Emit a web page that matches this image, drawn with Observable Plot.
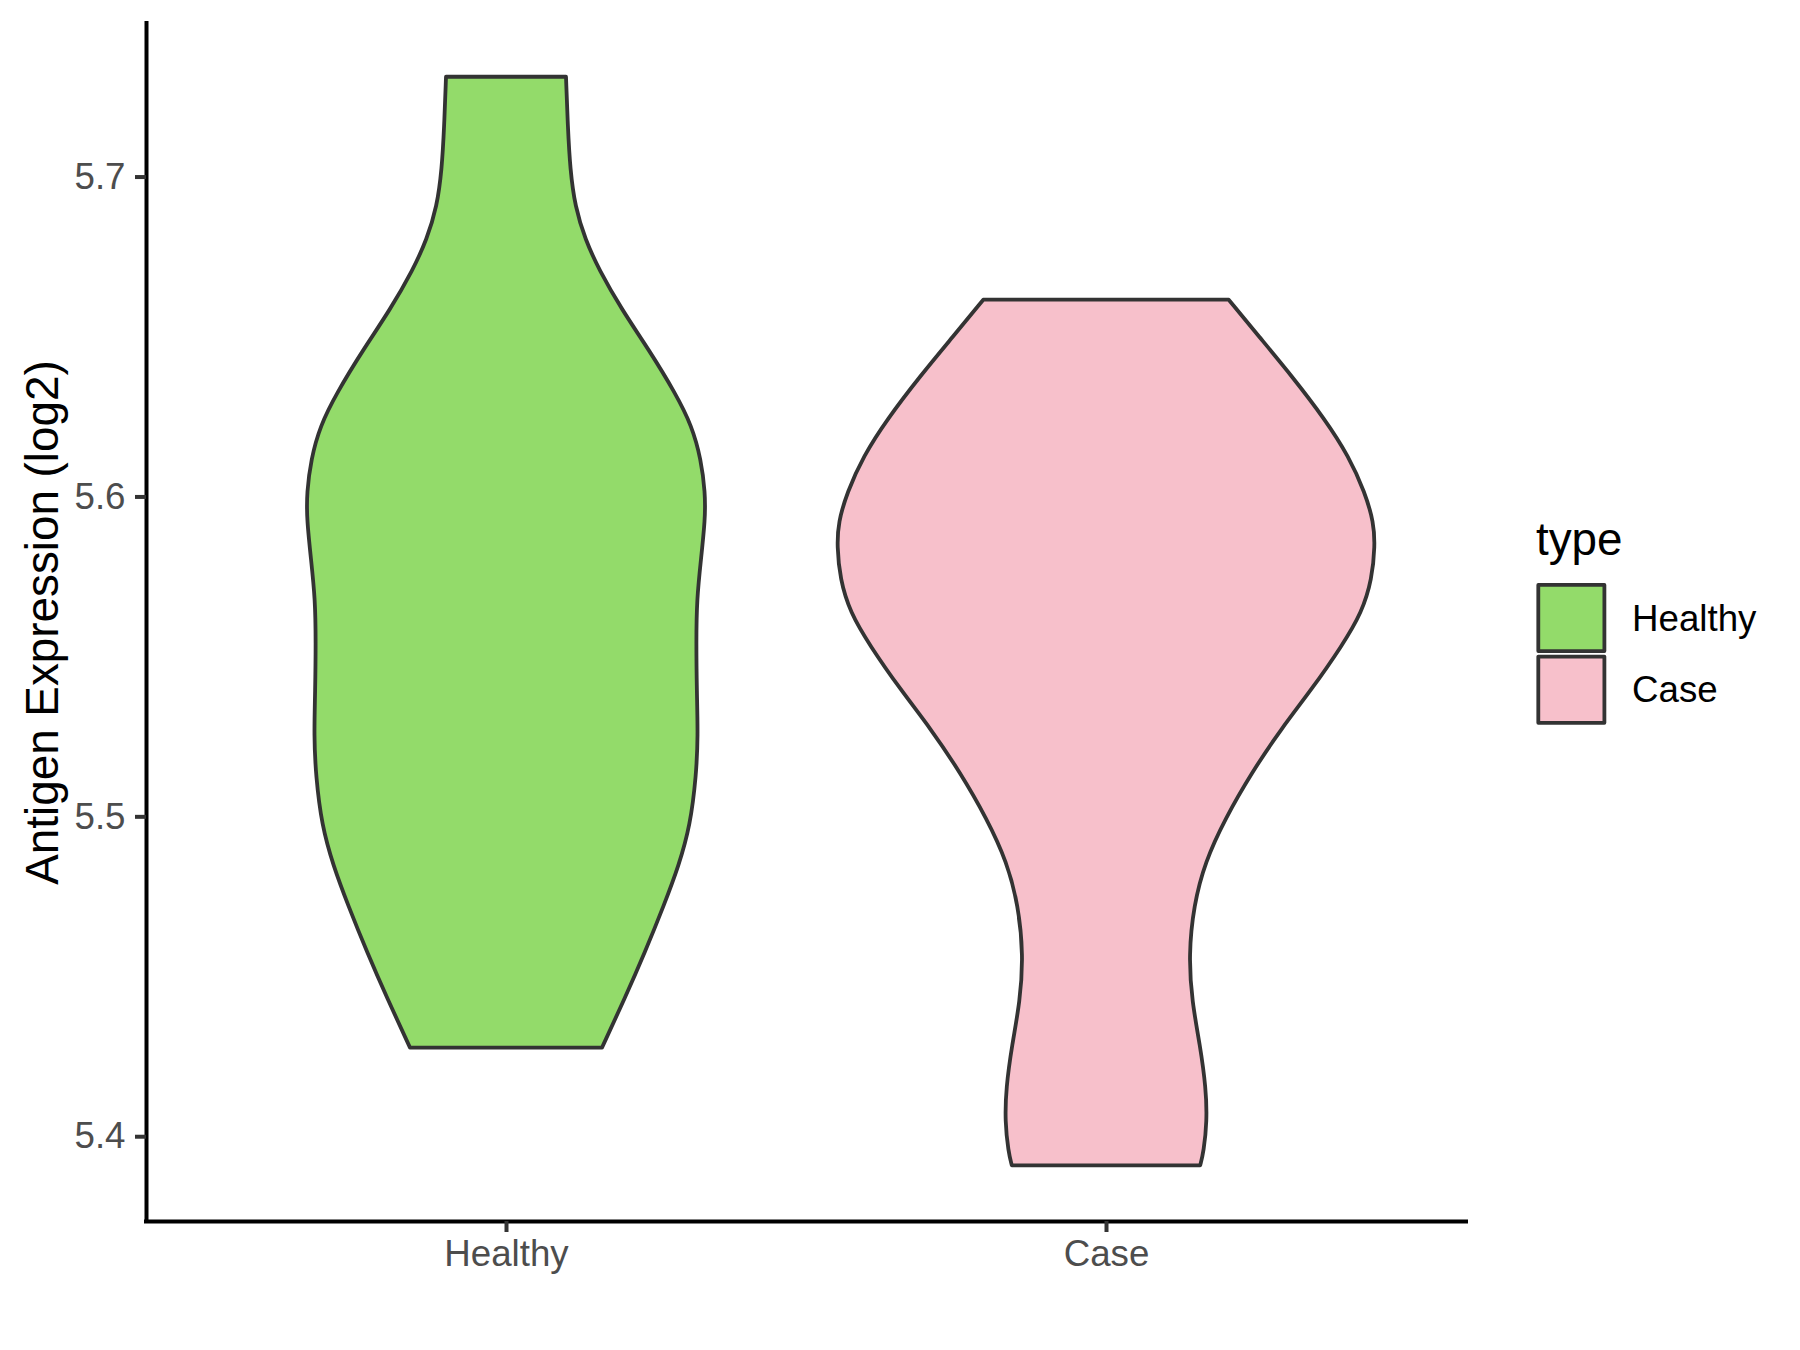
<!DOCTYPE html>
<html>
<head>
<meta charset="utf-8">
<script src="https://cdn.jsdelivr.net/npm/d3@7"></script>
<script src="https://cdn.jsdelivr.net/npm/@observablehq/plot@0.6"></script>
<style>
  body { margin: 0; background: #fff; }
  #chart { width: 1800px; height: 1350px; }
</style>
</head>
<body>
<div id="chart"></div>
<script>
// ---- data ----
const categories = ["Healthy", "Case"];
const fillColors = ["#93DB6A", "#F7C0CB"];
const yTicks = [5.4, 5.5, 5.6, 5.7];
const yDomain = [5.3735, 5.748];
const xDomain = [0.4, 2.6];
const yTitle = "Antigen Expression (log2)";
const legendTitle = "type";

// violin outlines: expression value and half-width (in category units)
const healthyValue = [5.7312, 5.7156, 5.7021, 5.6907, 5.6803, 5.6709, 5.6584, 5.6459, 5.6324, 5.6220, 5.6116, 5.6012, 5.5929, 5.5804, 5.5679, 5.5545, 5.5389, 5.5252, 5.5127, 5.4971, 5.4846, 5.4721, 5.4577, 5.4431, 5.4277];
const healthyHalfWidth = [0.100, 0.103, 0.107, 0.115, 0.132, 0.155, 0.193, 0.238, 0.282, 0.310, 0.325, 0.332, 0.332, 0.325, 0.318, 0.317, 0.318, 0.320, 0.317, 0.307, 0.288, 0.263, 0.232, 0.198, 0.160];
const caseValue = [5.6615, 5.6501, 5.6376, 5.6241, 5.6126, 5.6012, 5.5919, 5.5846, 5.5742, 5.5638, 5.5533, 5.5398, 5.5273, 5.5138, 5.4992, 5.4857, 5.4722, 5.4566, 5.4420, 5.4285, 5.4150, 5.4046, 5.3952, 5.3909];
const caseHalfWidth = [0.2045, 0.2545, 0.310, 0.365, 0.4045, 0.4317, 0.4462, 0.4483, 0.4433, 0.4267, 0.3933, 0.3433, 0.2917, 0.2433, 0.1983, 0.165, 0.1462, 0.1378, 0.1433, 0.1567, 0.1667, 0.1683, 0.1628, 0.157];

// ---- table for the library ----
const outlines = [[healthyValue, healthyHalfWidth], [caseValue, caseHalfWidth]];
const rows = [];
outlines.forEach(([vals, hws], i) => {
  vals.forEach((v, j) => rows.push({type: categories[i], pos: i + 1, value: v, hw: hws[j]}));
});

const font = "'Liberation Sans', Arial, sans-serif";

const plot = Plot.plot({
  width: 1800,
  height: 1350,
  marginLeft: 146,
  marginRight: 334,
  marginTop: 23,
  marginBottom: 129,
  style: {fontFamily: font, background: "white", color: "black"},
  x: {domain: xDomain},
  y: {domain: yDomain},
  color: {domain: categories, range: fillColors},
  marks: [
    Plot.areaX(rows, {
      y: "value",
      x1: d => d.pos - d.hw,
      x2: d => d.pos + d.hw,
      z: "type",
      fill: "type",
      stroke: "#333333",
      strokeWidth: 3.8,
      strokeLinejoin: "round",
      curve: "basis"
    }),
    Plot.ruleX([xDomain[0]], {stroke: "black", strokeWidth: 4, strokeLinecap: "square"}),
    Plot.ruleY([yDomain[0]], {stroke: "black", strokeWidth: 4, strokeLinecap: "square"}),
    Plot.axisX({
      ticks: categories.map((c, i) => i + 1),
      tickFormat: i => categories[i - 1],
      tickSize: 11,
      tickPadding: 7.5,
      fontSize: 36.7,
      fill: "#4D4D4D",
      stroke: "#333333",
      strokeWidth: 4,
      label: null
    }),
    Plot.axisY({
      ticks: yTicks,
      tickFormat: d3.format(".1f"),
      tickSize: 11,
      tickPadding: 10,
      fontSize: 36.7,
      fill: "#4D4D4D",
      stroke: "#333333",
      strokeWidth: 4,
      label: null
    }),
    Plot.text([yTitle], {
      text: d => d,
      frameAnchor: "left",
      textAnchor: "middle",
      rotate: -90,
      dx: -89,
      lineAnchor: "bottom",
      fontSize: 45.8,
      fill: "black"
    })
  ]
});

// ---- legend ----
const svg = d3.select(plot);
const lg = svg.append("g").attr("font-family", font).attr("text-anchor", "start");
lg.append("text")
  .attr("x", 1536).attr("y", 555)
  .attr("font-size", 45.8).attr("fill", "black")
  .attr("text-anchor", "start")
  .text(legendTitle);
categories.forEach((c, i) => {
  lg.append("rect")
    .attr("x", 1538.3).attr("y", 584.9 + i * 71.7)
    .attr("width", 66.1).attr("height", 66.2)
    .attr("fill", fillColors[i])
    .attr("stroke", "#333333").attr("stroke-width", 3.8)
    .attr("stroke-linejoin", "round");
  lg.append("text")
    .attr("x", 1632).attr("y", 631 + i * 71)
    .attr("font-size", 36.7).attr("fill", "black")
    .attr("text-anchor", "start")
    .text(c);
});

document.getElementById("chart").appendChild(plot);
</script>
</body>
</html>
